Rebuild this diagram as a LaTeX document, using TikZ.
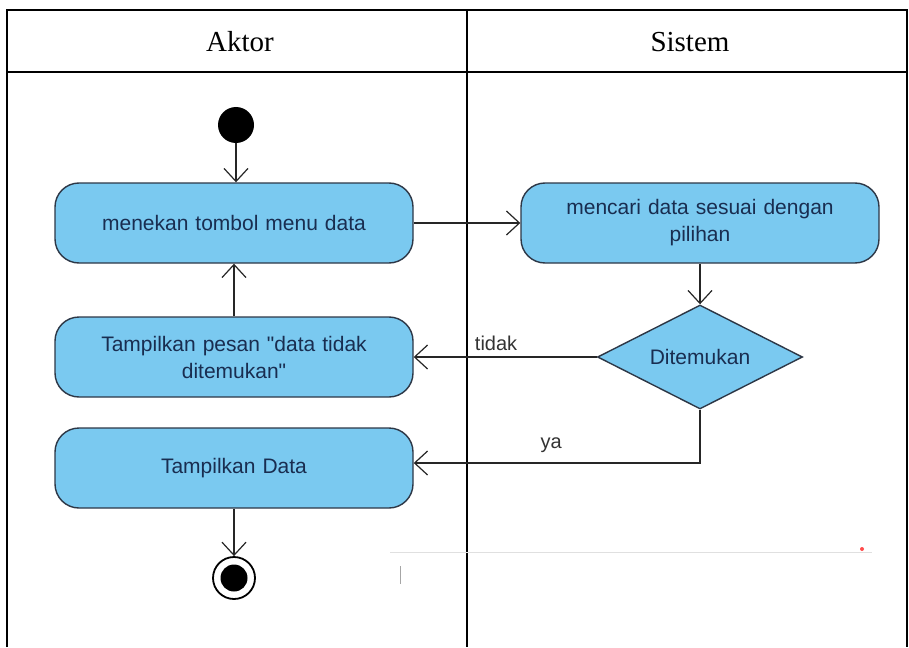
\documentclass[tikz,border=0pt]{standalone}
\usepackage{fontspec}
\setmainfont{Liberation Serif}
\newfontfamily\umlfont{Liberation Sans}
\usetikzlibrary{shapes.geometric,arrows.meta}
\definecolor{actfill}{RGB}{122,201,240}
\definecolor{actline}{RGB}{45,55,70}
\definecolor{acttext}{RGB}{25,45,80}
\tikzset{
  activity/.style={draw=actline,line width=1.4pt,fill=actfill,rounded corners=24pt,
    minimum width=358pt,minimum height=80pt,text width=340pt,align=center,
    font=\umlfont\fontsize{21}{27}\selectfont,text=acttext},
  decision/.style={draw=actline,line width=1.4pt,fill=actfill,diamond,aspect=2,
    minimum width=205pt,minimum height=104pt,inner sep=0pt,
    font=\umlfont\fontsize{21}{24}\selectfont,text=acttext},
  flow/.style={draw=black!85,line width=1.2pt,-{Straight Barb[length=13pt,width=24pt,line width=1.2pt]}},
  guard/.style={font=\umlfont\fontsize{20}{24}\selectfont,text=black!80}
}
\begin{document}
\begin{tikzpicture}[x=1pt,y=-1pt]
      \useasboundingbox (0,0) rectangle (909,647);
      % swimlanes
      \draw[line width=1.5pt] (7,647) -- (7,10) -- (907,10) -- (907,647);
      \draw[line width=1.5pt] (7,72) -- (907,72);
      \draw[line width=1.5pt] (467,10) -- (467,647);
      \node[font=\fontsize{29}{34}\selectfont] (aktor) at (240,42) {Aktor};
      \node[font=\fontsize{29}{34}\selectfont] (sistem) at (690,42) {Sistem};
      % faint scan leftovers
      \draw[black!12,line width=1pt] (390,552) -- (872,552);
      \draw[black!35,line width=1pt] (400,566) -- (400,584);
      \fill[red!70] (862,549) circle (2pt);
      % nodes
      \node[circle,fill=black,minimum size=36pt,inner sep=0pt] (start) at (236,125) {};
      \node[activity] (menu) at (234,223) {menekan tombol menu data};
      \node[activity] (pesan) at (234,357) {Tampilkan pesan "data tidak\\ditemukan"};
      \node[activity] (tampil) at (234,468) {Tampilkan Data};
      \node[activity] (cari) at (700,223) {mencari data sesuai dengan\\pilihan};
      \node[decision] (cek) at (700,357) {Ditemukan};
      \node[circle,draw=black,line width=1.8pt,fill=white,minimum size=42pt,inner sep=0pt] (stop) at (234,578) {};
      \node[circle,fill=black,minimum size=27pt,inner sep=0pt] at (stop) {};
      \coordinate (belok) at (cek.south |- 0,463);
      % flows
      \draw[flow] (start) -- (start |- menu.north);
      \draw[flow] (menu.east) -- (cari.west |- menu.east);
      \draw[flow] (cari) -- (cek);
      \draw[flow] (cek.west) -- (pesan.east) node[guard,pos=0.55,above=2pt] {tidak};
      \draw[flow] (pesan) -- (menu);
      \draw[flow] (cek.south) -- (belok) -- (tampil.east |- belok) node[guard,pos=0.52,above=6pt] {ya};
      \draw[flow] (tampil) -- (stop);
    \end{tikzpicture}
\end{document}
